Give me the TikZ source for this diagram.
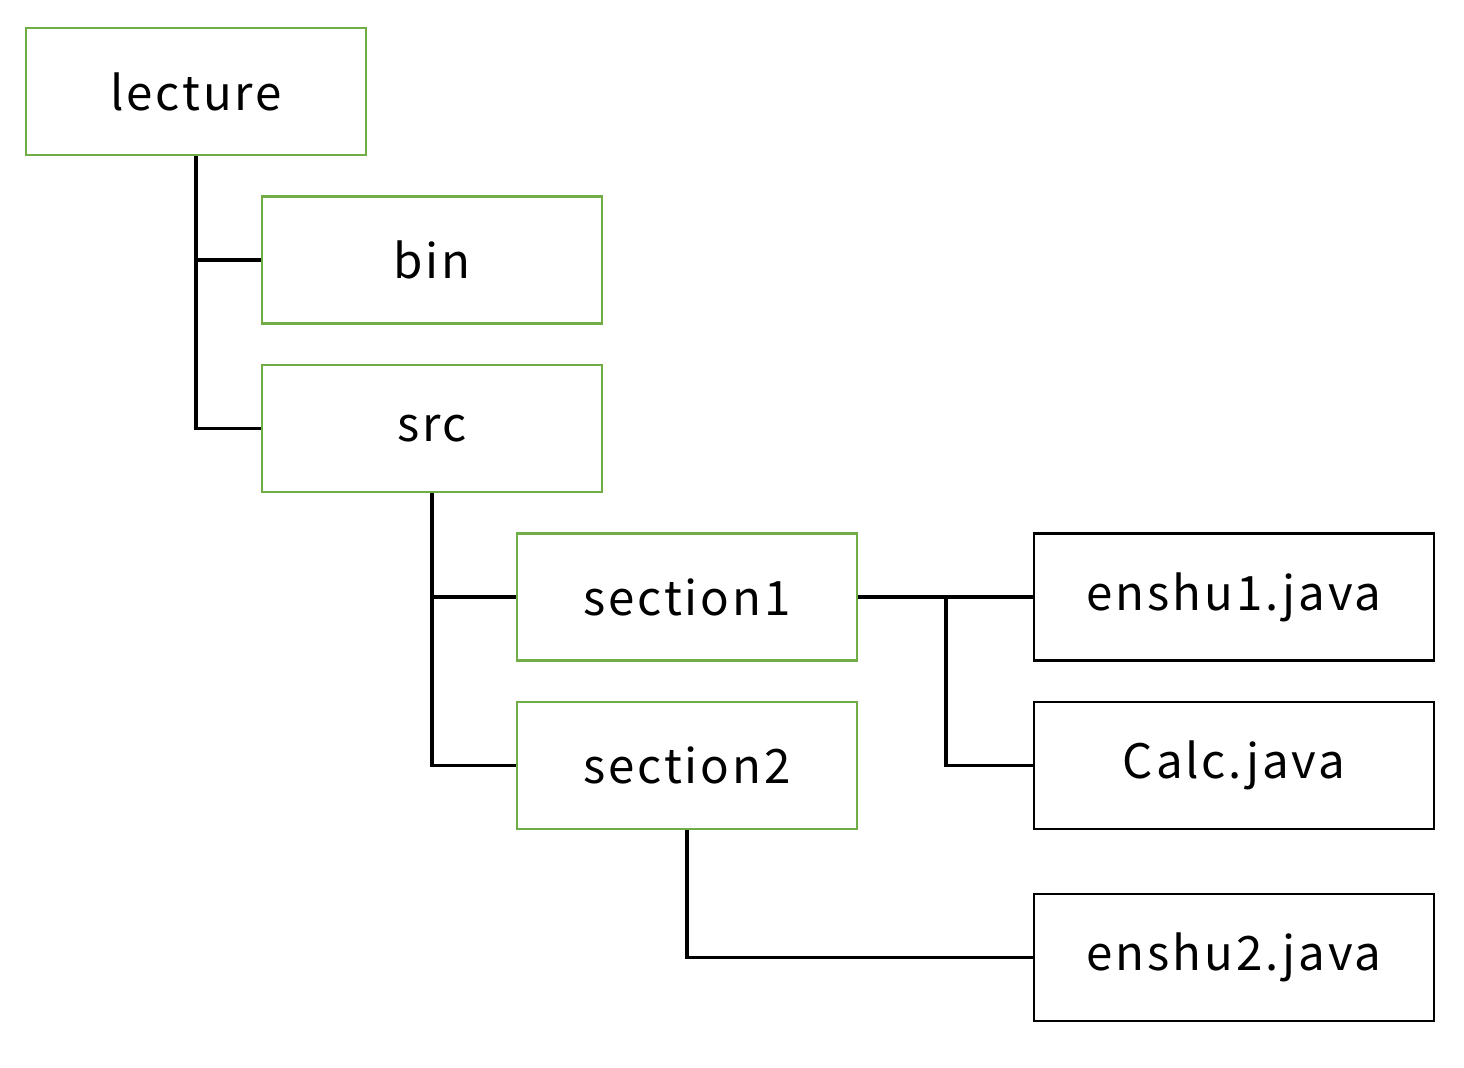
\documentclass[tikz,border=0pt]{standalone}
\usepackage{fontspec}
\setmainfont[LetterSpace=6]{Noto Sans CJK JP}
\usepackage{xcolor}
\definecolor{dirgreen}{HTML}{70AD47}

\begin{document}
\begin{tikzpicture}[x=0.02cm,y=-0.02cm,
  dirbox/.style={draw=dirgreen,line width=1.5pt,minimum width=6.8cm,minimum height=2.54cm,font=\fontsize{27}{30}\selectfont},
  filebox/.style={draw=black,line width=1.5pt,minimum width=8cm,minimum height=2.54cm,font=\fontsize{27}{30}\selectfont},
  tree/.style={draw=black,line width=1.8pt}]
\useasboundingbox (0,0) rectangle (1464,1068);
% folders
\node[dirbox] (lecture) at (196,91.5) {lecture};
\node[dirbox] (bin) at (432,260) {bin};
\node[dirbox] (src) at (432,428.5) {src};
\node[dirbox] (section1) at (687,597) {section1};
\node[dirbox] (section2) at (687,765.5) {section2};
% files
\node[filebox] (enshu1) at (1234,597) {enshu1.java};
\node[filebox] (calc) at (1234,765.5) {Calc.java};
\node[filebox] (enshu2) at (1234,957.5) {enshu2.java};

\draw[tree] (lecture.south) |- (src.west);
\draw[tree] (lecture.south |- bin.west) -- (bin.west);
\draw[tree] (src.south) |- (section2.west);
\draw[tree] (src.south |- section1.west) -- (section1.west);
\draw[tree] (section1.east) -- (enshu1.west);
\coordinate (fork) at (946,597);
\draw[tree] (fork) |- (calc.west);
\draw[tree] (section2.south) |- (enshu2.west);
\end{tikzpicture}
\end{document}
